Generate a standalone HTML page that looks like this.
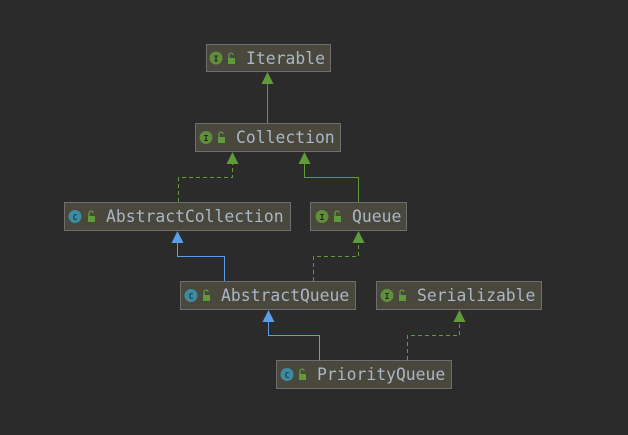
<!DOCTYPE html>
<html><head><style>
body{margin:0;background:#2b2b2b;width:628px;height:435px;overflow:hidden}
svg{position:absolute;left:0;top:0}
text{font-family:"DejaVu Sans Mono","Liberation Mono",monospace;font-size:16.4px;fill:#a9b7c6}
.b{fill:#4a473d;stroke:#6e6e6e;stroke-width:1}
</style></head><body>
<svg width="628" height="435">
<defs>
<g id="ii"><circle r="6.5" fill="#5f8f3a"/><text x="0" y="3.5" text-anchor="middle" style="font-size:8px;fill:#222;font-weight:bold">I</text></g>
<g id="ci"><circle r="6.5" fill="#3d8ba3"/><text x="0" y="3.5" text-anchor="middle" style="font-size:8px;fill:#1d3d47;font-weight:bold">C</text></g>
<g id="lk"><rect x="-3" y="-1" width="7" height="6" fill="#5f9b3a"/><path d="M-2,-1 v-3 a2,2 0 0 1 4,0" fill="none" stroke="#5f9b3a" stroke-width="1.3"/></g>
</defs>
<g fill="none" stroke-width="1">
<path d="M267.5,123V84" stroke="#5f9b3a"/>
<path d="M178.5,202V177.5H232.5V164" stroke="#5f9b3a" stroke-dasharray="4,3"/>
<path d="M358.5,202V177.5H304.5V164" stroke="#5f9b3a"/>
<path d="M224.5,281V256.5H177.5V243" stroke="#5a9ee8"/>
<path d="M313.5,281V256.5H358.5V243" stroke="#5f9b3a" stroke-dasharray="4,3"/>
<path d="M319.5,360V335.5H268.5V322" stroke="#5a9ee8"/>
<path d="M407.5,360V335.5H459.5V322" stroke="#5f9b3a" stroke-dasharray="4,3"/>
</g>
<g fill="#5f9b3a">
<path d="M267.5,72l-6,12h12z"/>
<path d="M232.5,152l-6,12h12z"/>
<path d="M304.5,152l-6,12h12z"/>
<path d="M358.5,231l-6,12h12z"/>
<path d="M459.5,310l-6,12h12z"/>
</g>
<g fill="#5a9ee8">
<path d="M177.5,231l-6,12h12z"/>
<path d="M268.5,310l-6,12h12z"/>
</g>
<rect class="b" x="206.5" y="44.5" width="124" height="27"/>
<use href="#ii" x="216" y="58"/><use href="#lk" x="231" y="59"/><text x="246" y="64">Iterable</text>
<rect class="b" x="195.5" y="123.5" width="145" height="28"/>
<use href="#ii" x="206" y="137.5"/><use href="#lk" x="221" y="138"/><text x="236" y="143">Collection</text>
<rect class="b" x="64.5" y="202.5" width="226" height="28"/>
<use href="#ci" x="75" y="216.5"/><use href="#lk" x="91" y="217"/><text x="106" y="222">AbstractCollection</text>
<rect class="b" x="310.5" y="202.5" width="96" height="28"/>
<use href="#ii" x="322" y="216.5"/><use href="#lk" x="337" y="217"/><text x="352" y="222">Queue</text>
<rect class="b" x="180.5" y="281.5" width="175" height="28"/>
<use href="#ci" x="191" y="295.5"/><use href="#lk" x="206" y="296"/><text x="221" y="301">AbstractQueue</text>
<rect class="b" x="376.5" y="281.5" width="165" height="28"/>
<use href="#ii" x="387" y="295.5"/><use href="#lk" x="402" y="296"/><text x="417" y="301">Serializable</text>
<rect class="b" x="276.5" y="360.5" width="175" height="28"/>
<use href="#ci" x="287" y="374.5"/><use href="#lk" x="302" y="375"/><text x="317" y="380">PriorityQueue</text>
</svg>
</body></html>
